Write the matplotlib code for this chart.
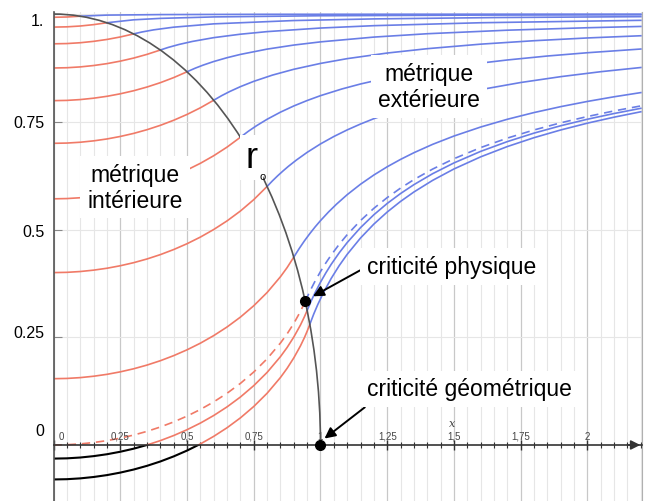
import numpy as np
import matplotlib.pyplot as plt
from matplotlib.patches import Arc, Rectangle
from matplotlib.ticker import MultipleLocator

plt.rcParams['font.family'] = ['Liberation Sans', 'DejaVu Sans']

## interior metric (red), one curve per star radius R = 0.1 ... 0.9
in_x = [
    [0, 0.05, 0.1],
    [0, 0.05, 0.1, 0.15, 0.2],
    [0, 0.05, 0.1, 0.15, 0.2, 0.25, 0.3],
    [0, 0.05, 0.1, 0.15, 0.2, 0.25, 0.3, 0.35, 0.4],
    [0, 0.05, 0.1, 0.15, 0.2, 0.25, 0.3, 0.35, 0.4, 0.45, 0.5],
    [0, 0.05, 0.1, 0.15, 0.2, 0.25, 0.3, 0.35, 0.4, 0.45, 0.5, 0.55, 0.6],
    [0, 0.05, 0.1, 0.15, 0.2, 0.25, 0.3, 0.35, 0.4, 0.45, 0.5, 0.55, 0.6, 0.65, 0.7],
    [0, 0.05, 0.1, 0.15, 0.2, 0.25, 0.3, 0.35, 0.4, 0.45, 0.5, 0.55, 0.6, 0.65, 0.7,
     0.75, 0.8],
    [0, 0.05, 0.1, 0.15, 0.2, 0.25, 0.3, 0.35, 0.4, 0.45, 0.5, 0.55, 0.6, 0.65, 0.7,
     0.75, 0.8, 0.85, 0.875, 0.9],
]
in_y = [
    [0.9925, 0.9931, 0.9950],
    [0.9697, 0.9703, 0.9722, 0.9754, 0.9798],
    [0.9309, 0.9315, 0.9334, 0.9366, 0.9410, 0.9468, 0.9539],
    [0.8748, 0.8754, 0.8773, 0.8805, 0.8849, 0.8907, 0.8978, 0.9064, 0.9165],
    [0.7990, 0.7996, 0.8015, 0.8047, 0.8091, 0.8149, 0.8220, 0.8306, 0.8407, 0.8525, 0.8660],
    [0.7000, 0.7006, 0.7025, 0.7057, 0.7101, 0.7159, 0.7230, 0.7316, 0.7417, 0.7535, 0.7670,
     0.7824, 0.8000],
    [0.5712, 0.5718, 0.5737, 0.5769, 0.5813, 0.5871, 0.5942, 0.6028, 0.6129, 0.6247, 0.6382,
     0.6536, 0.6712, 0.6912, 0.7141],
    [0.4000, 0.4006, 0.4025, 0.4057, 0.4101, 0.4159, 0.4230, 0.4316, 0.4417, 0.4535, 0.4670,
     0.4824, 0.5000, 0.5200, 0.5429, 0.5693, 0.6000],
    [0.1538, 0.1544, 0.1563, 0.1595, 0.1639, 0.1697, 0.1768, 0.1854, 0.1955, 0.2073, 0.2208,
     0.2362, 0.2538, 0.2738, 0.2967, 0.3231, 0.3538, 0.3904, 0.4117, 0.4359],
]

## physical criticality (dashed)
crit_in_x = [0, 0.05, 0.1, 0.15, 0.2, 0.25, 0.3, 0.35, 0.4, 0.45, 0.5, 0.55, 0.6, 0.65, 0.7,
             0.75, 0.8, 0.85, 0.875, 0.9, 0.925, 0.9428]
crit_in_y = [0, 0.0006, 0.0025, 0.0057, 0.0101, 0.0159, 0.0230, 0.0316, 0.0417, 0.0535,
             0.0670, 0.0824, 0.1000, 0.1200, 0.1429, 0.1693, 0.2000, 0.2366, 0.2579, 0.2821,
             0.3100, 0.3333]

## beyond the physical limit (black where negative)
over_in_x = [
    [0, 0.05, 0.1, 0.15, 0.2, 0.25, 0.3, 0.35, 0.4, 0.45, 0.5, 0.55, 0.6, 0.65, 0.7,
     0.75, 0.8, 0.85, 0.875, 0.9, 0.925, 0.94, 0.95],
    [0, 0.05, 0.1, 0.15, 0.2, 0.25, 0.3, 0.35, 0.4, 0.45, 0.5, 0.55, 0.6, 0.65, 0.7,
     0.75, 0.8, 0.85, 0.875, 0.9, 0.925, 0.94, 0.95, 0.96],
]
over_in_y = [
    [-0.0316, -0.0310, -0.0291, -0.0259, -0.0215, -0.0157, -0.0086, 0.0000, 0.0101, 0.0219,
     0.0354, 0.0508, 0.0684, 0.0884, 0.1113, 0.1377, 0.1684, 0.2050, 0.2263, 0.2505,
     0.2784, 0.2978, 0.3122],
    [-0.0800, -0.0794, -0.0775, -0.0743, -0.0699, -0.0641, -0.0570, -0.0484, -0.0383, -0.0265,
     -0.0130, 0.0024, 0.0200, 0.0400, 0.0629, 0.0893, 0.1200, 0.1566, 0.1779, 0.2021,
     0.2300, 0.2494, 0.2639, 0.2800],
]

## exterior metric (blue)
out_x = [
    [0.1, 0.2, 0.4, 0.8, 2.2],
    [0.2, 0.3, 0.4, 0.6, 1.0, 1.6, 2.2],
    [0.3, 0.33, 0.375, 0.45, 0.6, 0.9, 1.2, 1.65, 2.2],
    [0.4, 0.43, 0.47, 0.52, 0.6, 0.7, 0.8, 1.0, 1.2, 1.6, 2.2],
    [0.5, 0.53, 0.56, 0.6, 0.65, 0.7, 0.8, 0.9, 1.0, 1.2, 1.4, 1.7, 2.0, 2.2],
    [0.6, 0.63, 0.66, 0.7, 0.75, 0.82, 0.9, 1.0, 1.1, 1.25, 1.4, 1.6, 1.8, 2.0, 2.2],
    [0.7, 0.73, 0.76, 0.8, 0.85, 0.9, 0.95, 1.0, 1.08, 1.15, 1.25, 1.4, 1.55, 1.7, 1.85,
     2.0, 2.2],
    [0.8, 0.82, 0.84, 0.86, 0.88, 0.91, 0.95, 1.0, 1.05, 1.1, 1.15, 1.2, 1.3, 1.4, 1.5,
     1.6, 1.75, 1.9, 2.05, 2.2],
    [0.9, 0.92, 0.94, 0.96, 0.98, 1.0, 1.03, 1.06, 1.1, 1.15, 1.2, 1.25, 1.3, 1.35, 1.42,
     1.5, 1.6, 1.7, 1.8, 1.9, 2.0, 2.1, 2.2],
]
out_y = [
    [0.9950, 0.9975, 0.9987, 0.9994, 0.9998],
    [0.9798, 0.9866, 0.9899, 0.9933, 0.9960, 0.9975, 0.9982],
    [0.9539, 0.9582, 0.9633, 0.9695, 0.9772, 0.9849, 0.9887, 0.9918, 0.9939],
    [0.9165, 0.9226, 0.9294, 0.9364, 0.9452, 0.9532, 0.9592, 0.9675, 0.9730, 0.9798, 0.9854],
    [0.8660, 0.8742, 0.8814, 0.8898, 0.8987, 0.9063, 0.9186, 0.9280, 0.9354, 0.9465, 0.9543,
     0.9625, 0.9682, 0.9712],
    [0.8000, 0.8107, 0.8202, 0.8315, 0.8438, 0.8583, 0.8718, 0.8854, 0.8965, 0.9095, 0.9196,
     0.9301, 0.9381, 0.9445, 0.9496],
    [0.7141, 0.7281, 0.7407, 0.7558, 0.7723, 0.7867, 0.7993, 0.8106, 0.8261, 0.8377, 0.8518,
     0.8689, 0.8825, 0.8934, 0.9026, 0.9102, 0.9188],
    [0.6000, 0.6129, 0.6249, 0.6361, 0.6467, 0.6613, 0.6790, 0.6986, 0.7158, 0.7311, 0.7448,
     0.7572, 0.7786, 0.7964, 0.8116, 0.8246, 0.8411, 0.8547, 0.8662, 0.8759],
    [0.4359, 0.4556, 0.4738, 0.4905, 0.5061, 0.5206, 0.5406, 0.5588, 0.5808, 0.6051, 0.6265,
     0.6456, 0.6627, 0.6782, 0.6976, 0.7169, 0.7378, 0.7558, 0.7714, 0.7851, 0.7972, 0.8080,
     0.8177],
]
crit_out_x = [0.9428, 0.96, 0.98, 1.0, 1.02, 1.04, 1.07, 1.1, 1.15, 1.2, 1.25, 1.3, 1.35,
              1.42, 1.5, 1.6, 1.7, 1.8, 1.9, 2.0, 2.1, 2.2]
crit_out_y = [0.3333, 0.3564, 0.3806, 0.4024, 0.4224, 0.4407, 0.4656, 0.4880, 0.5208, 0.5492,
              0.5741, 0.5961, 0.6158, 0.6402, 0.6643, 0.6901, 0.7121, 0.7310, 0.7476, 0.7622,
              0.7752, 0.7868]
over_out_x = [
    [0.95, 0.965, 0.98, 1.0, 1.02, 1.04, 1.07, 1.1, 1.15, 1.2, 1.25, 1.3, 1.35, 1.42, 1.5,
     1.6, 1.7, 1.8, 1.9, 2.0, 2.1, 2.2],
    [0.96, 0.975, 0.99, 1.01, 1.04, 1.07, 1.1, 1.15, 1.2, 1.25, 1.3, 1.35, 1.42, 1.5, 1.6,
     1.7, 1.8, 1.9, 2.0, 2.1, 2.2],
]
over_out_y = [
    [0.3122, 0.3340, 0.3537, 0.3777, 0.3993, 0.4191, 0.4458, 0.4697, 0.5044, 0.5343, 0.5605,
     0.5835, 0.6041, 0.6295, 0.6545, 0.6813, 0.7040, 0.7237, 0.7408, 0.7559, 0.7692, 0.7812],
    [0.2800, 0.3043, 0.3261, 0.3522, 0.3864, 0.4161, 0.4424, 0.4803, 0.5126, 0.5406, 0.5652,
     0.5871, 0.6140, 0.6405, 0.6686, 0.6925, 0.7131, 0.7310, 0.7468, 0.7607, 0.7732],
]

arc_r = 1.0                 # boundary of the star, r0
crit_phys = (0.9428, 0.3333)
crit_geom = (1.0, 0.0)

xtick_pos = [0, 0.25, 0.5, 0.75, 1, 1.25, 1.5, 1.75, 2]
xtick_lab = ['0', '0,25', '0,5', '0,75', '1', '1,25', '1,5', '1,75', '2']
ytick_pos = [0.985, 0.748, 0.496, 0.262, 0.033]
ytick_lab = ['1.', '0.75', '0.5', '0.25', '0']

RED = '#f07a67'
BLUE = '#6a7ee6'
BOX = dict(boxstyle='square,pad=0.3', fc='white', ec='none')

fig = plt.figure(figsize=(6.53, 5.02), dpi=100)
ax = fig.add_axes([0.082, 0.0, 0.901, 0.974])
ax.set_xlim(0, 2.204)
ax.set_ylim(-0.130, 1.0046)

## axes, ticks and grid
ax.spines['top'].set_visible(False)
ax.spines['right'].set_color('#b0b0b0')
ax.spines['left'].set_color('#555555')
ax.spines['left'].set_linewidth(1.2)
ax.spines['bottom'].set_position(('data', 0))
ax.spines['bottom'].set_color('#333333')
ax.spines['bottom'].set_linewidth(1.2)
ax.set_xticks(xtick_pos)
ax.xaxis.set_minor_locator(MultipleLocator(0.05))
ax.set_yticks([0.25, 0.5, 0.75, 1.0])
ax.tick_params(axis='x', which='major', direction='inout', length=7, width=1,
               color='#333333', labelbottom=False)
ax.tick_params(axis='x', which='minor', direction='inout', length=4, width=0.8,
               color='#333333')
ax.tick_params(axis='y', direction='in', length=6, color='#888888', labelleft=False)
ax.grid(axis='x', which='major', color='#c8c8c8', lw=0.9)
ax.grid(axis='x', which='minor', color='#e6e6e6', lw=0.8)
ax.grid(axis='y', which='major', color='#e6e6e6', lw=0.8)
ax.annotate('', xy=(2.198, 0), xytext=(2.15, 0),
            arrowprops=dict(arrowstyle='-|>', color='#333333', lw=1.2,
                            mutation_scale=14, shrinkA=0, shrinkB=0))

for x, lab in zip(xtick_pos, xtick_lab):
    if lab == '0':
        ax.text(x + 0.02, 0.021, lab, ha='left', va='center', fontsize=7, color='#444444')
    else:
        ax.text(x, 0.021, lab, ha='center', va='center', fontsize=7, color='#444444')
ax.text(1.492, 0.052, 'x', family='DejaVu Serif', style='italic', fontsize=8,
        ha='center', va='center', color='#444444')
for y, lab in zip(ytick_pos, ytick_lab):
    ax.text(-0.035, y, lab, ha='right', va='center', fontsize=11.5, clip_on=False)

## curves
for xs, ys in zip(in_x, in_y):
    ax.plot(xs, ys, color=RED, lw=1.2)
for xs, ys in zip(out_x, out_y):
    ax.plot(xs, ys, color=BLUE, lw=1.2)
ax.plot(crit_in_x, crit_in_y, color=RED, lw=1.2, ls=(0, (5, 3.5)))
ax.plot(crit_out_x, crit_out_y, color=BLUE, lw=1.2, ls=(0, (5, 3.5)))
for xs, ys in zip(over_in_x, over_in_y):
    pos, = ax.plot(xs, ys, color=RED, lw=1.2)
    pos.set_clip_path(Rectangle((0, 0), 3, 2, transform=ax.transData))
    neg, = ax.plot(xs, ys, color='black', lw=1.5)
    neg.set_clip_path(Rectangle((0, -1), 3, 1, transform=ax.transData))
for xs, ys in zip(over_out_x, over_out_y):
    ax.plot(xs, ys, color=BLUE, lw=1.2)

ax.add_patch(Arc((0, 0), 2 * arc_r, 2 * arc_r, theta1=0, theta2=90,
                 color='#555555', lw=1.2, zorder=3))
ax.plot(*crit_phys, 'o', color='black', ms=7, zorder=6)
ax.plot(*crit_geom, 'o', color='black', ms=7, zorder=6, clip_on=False)

## labels
ax.text(1.406, 0.832, 'métrique\nextérieure', ha='center', va='center', fontsize=16.5,
        linespacing=1.15, bbox=BOX, zorder=5)
ax.text(0.305, 0.598, 'métrique\nintérieure', ha='center', va='center', fontsize=16.5,
        linespacing=1.15, bbox=BOX, zorder=5)
ax.text(0.743, 0.667, 'r', ha='center', va='center', fontsize=26,
        bbox=dict(boxstyle='square,pad=0.15', fc='white', ec='none'), zorder=5)
ax.text(0.785, 0.625, 'o', ha='center', va='center', fontsize=8, zorder=6)
ax.annotate('criticité physique', xy=(0.972, 0.345), xytext=(1.174, 0.414),
            ha='left', va='center', fontsize=16.5, bbox=BOX, zorder=5,
            arrowprops=dict(arrowstyle='-|>', color='black', lw=1.4, mutation_scale=16,
                            shrinkA=0, shrinkB=0, relpos=(0, 0.5)))
ax.annotate('criticité géométrique', xy=(1.015, 0.015), xytext=(1.174, 0.130),
            ha='left', va='center', fontsize=16.5, bbox=BOX, zorder=5,
            arrowprops=dict(arrowstyle='-|>', color='black', lw=1.4, mutation_scale=16,
                            shrinkA=0, shrinkB=0, relpos=(0.04, 0.05)))

fig.savefig('out.png', dpi=100)
